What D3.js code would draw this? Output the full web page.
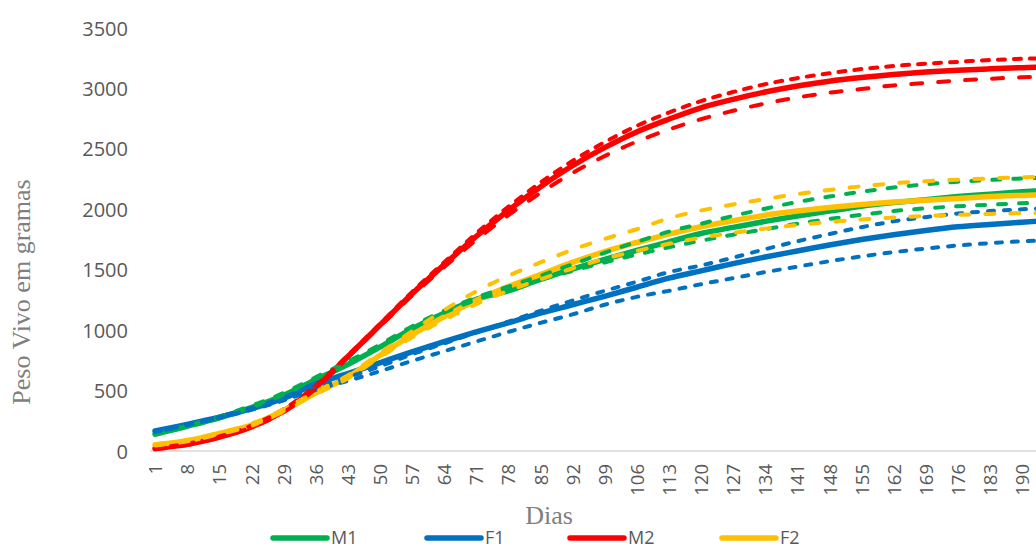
<!DOCTYPE html>
<html>
<head>
<meta charset="utf-8">
<script src="https://cdn.jsdelivr.net/npm/d3@7/dist/d3.min.js"></script>
<style>
  html, body { margin: 0; padding: 0; background: #fff; }
  svg { display: block; }
</style>
</head>
<body>
<svg id="chart" width="1036" height="550"></svg>
<script>
// ---------- DATA ----------
const days = [1, 8, 15, 22, 29, 36, 43, 50, 57, 64, 71, 78, 85, 92, 99, 106, 113, 120, 127, 134, 141, 148, 155, 162, 169, 176, 183, 190, 197];
const tickDays = [1, 8, 15, 22, 29, 36, 43, 50, 57, 64, 71, 78, 85, 92, 99, 106, 113, 120, 127, 134, 141, 148, 155, 162, 169, 176, 183, 190];
const yTicks = [0, 500, 1000, 1500, 2000, 2500, 3000, 3500];

// M1 (green)
const m1      = [140, 205, 275, 360, 460, 590, 715, 860, 1010, 1140, 1255, 1325, 1420, 1505, 1585, 1660, 1730, 1800, 1850, 1900, 1945, 1985, 2025, 2055, 2080, 2105, 2125, 2145, 2160];
const m1Upper = [145, 210, 285, 375, 480, 610, 740, 880, 1030, 1160, 1270, 1360, 1450, 1545, 1640, 1730, 1815, 1880, 1945, 2005, 2060, 2105, 2145, 2180, 2207, 2228, 2243, 2255, 2265];
const m1Lower = [135, 200, 270, 360, 465, 600, 725, 870, 1020, 1145, 1250, 1335, 1415, 1490, 1560, 1625, 1685, 1740, 1790, 1835, 1880, 1920, 1955, 1985, 2008, 2025, 2038, 2050, 2058];
// F1 (blue)
const f1      = [165, 220, 280, 350, 435, 555, 640, 730, 820, 905, 985, 1060, 1140, 1210, 1280, 1355, 1430, 1490, 1550, 1605, 1655, 1705, 1750, 1790, 1825, 1855, 1875, 1893, 1910];
const f1Upper = [160, 215, 275, 340, 420, 520, 610, 700, 800, 890, 980, 1070, 1160, 1245, 1325, 1400, 1480, 1535, 1600, 1670, 1735, 1795, 1852, 1900, 1935, 1965, 1985, 2000, 2012];
const f1Lower = [160, 215, 280, 345, 420, 505, 580, 660, 745, 825, 905, 985, 1060, 1130, 1210, 1275, 1325, 1380, 1430, 1480, 1525, 1570, 1610, 1645, 1675, 1700, 1720, 1735, 1745];
// M2 (red)
const m2      = [20, 55, 115, 200, 330, 525, 780, 1040, 1300, 1540, 1775, 1990, 2185, 2360, 2510, 2640, 2745, 2840, 2910, 2970, 3020, 3060, 3090, 3115, 3135, 3150, 3162, 3172, 3180];
const m2Upper = [25, 60, 120, 210, 345, 540, 790, 1050, 1315, 1560, 1800, 2020, 2220, 2400, 2555, 2690, 2800, 2895, 2970, 3035, 3085, 3125, 3160, 3185, 3205, 3220, 3235, 3245, 3252];
const m2Lower = [15, 50, 110, 195, 320, 515, 775, 1030, 1285, 1520, 1745, 1950, 2135, 2300, 2440, 2560, 2660, 2745, 2815, 2875, 2925, 2965, 2995, 3025, 3045, 3065, 3080, 3092, 3100];
// F2 (yellow)
const f2      = [50, 85, 145, 215, 335, 480, 610, 790, 960, 1110, 1245, 1360, 1460, 1560, 1650, 1725, 1795, 1855, 1905, 1950, 1985, 2015, 2040, 2060, 2075, 2090, 2105, 2115, 2125];
const f2Upper = [55, 90, 150, 225, 345, 490, 625, 810, 990, 1165, 1320, 1450, 1560, 1665, 1755, 1835, 1925, 1990, 2040, 2085, 2125, 2160, 2190, 2215, 2232, 2245, 2255, 2265, 2272];
const f2Lower = [45, 80, 140, 210, 330, 470, 600, 775, 940, 1085, 1215, 1325, 1420, 1510, 1590, 1655, 1715, 1765, 1805, 1840, 1870, 1895, 1915, 1932, 1945, 1955, 1962, 1968, 1972];

const legendNames = ["M1", "F1", "M2", "F2"];
const colors = {M1: "#00B050", F1: "#0070C0", M2: "#FF0000", F2: "#FFC000"};

// ---------- LAYOUT ----------
const svg = d3.select("#chart");
const x = d3.scaleLinear().domain([1, 190]).range([155, 1022]);
const y = d3.scaleLinear().domain([0, 3500]).range([451, 28]);

const tickColor = "#595959";
const titleColor = "#7f7f7f";

// baseline
svg.append("line")
  .attr("x1", 150).attr("x2", 1036)
  .attr("y1", y(0)).attr("y2", y(0))
  .attr("stroke", "#d9d9d9").attr("stroke-width", 1.5);

// Y axis labels
const yAxis = d3.axisLeft(y).tickValues(yTicks).tickSize(0).tickPadding(0).tickFormat(d3.format("d"));
const gy = svg.append("g").attr("transform", "translate(128,0)").call(yAxis);
gy.select(".domain").remove();
gy.selectAll("text")
  .attr("fill", tickColor)
  .style("font-family", "'Open Sans', sans-serif")
  .style("font-size", "20px")
  .attr("dy", "0.35em");

// X axis labels (rotated)
const xAxis = d3.axisBottom(x).tickValues(tickDays).tickSize(0).tickFormat(d3.format("d"));
const gx = svg.append("g").attr("transform", `translate(0,${y(0)})`).call(xAxis);
gx.select(".domain").remove();
gx.selectAll("text")
  .attr("fill", tickColor)
  .style("font-family", "'Open Sans', sans-serif")
  .style("font-size", "18.5px")
  .attr("text-anchor", "end")
  .attr("transform", "rotate(-90)")
  .attr("x", -13)
  .attr("y", 0)
  .attr("dy", "0.36em");

// Axis titles
svg.append("text")
  .attr("transform", "translate(30,292) rotate(-90)")
  .attr("text-anchor", "middle")
  .attr("fill", titleColor)
  .style("font-family", "'Liberation Serif', 'Times New Roman', serif")
  .style("font-size", "26px")
  .text("Peso Vivo em gramas");

svg.append("text")
  .attr("x", 549).attr("y", 524)
  .attr("text-anchor", "middle")
  .attr("fill", titleColor)
  .style("font-family", "'Liberation Serif', 'Times New Roman', serif")
  .style("font-size", "26px")
  .text("Dias");

// ---------- LINES ----------
const line = d3.line()
  .x((d, i) => x(days[i]))
  .y(d => y(d))
  .curve(d3.curveCatmullRom.alpha(0.5));

const plot = svg.append("g");

const solids = [
  {name: "M1", values: m1},
  {name: "F1", values: f1},
  {name: "M2", values: m2},
  {name: "F2", values: f2}
];
const dashed = [
  {name: "M1", values: m1Upper, dash: "8,13"},
  {name: "M1", values: m1Lower, dash: "8,13"},
  {name: "F1", values: f1Upper, dash: "6,10"},
  {name: "F1", values: f1Lower, dash: "6,10"},
  {name: "M2", values: m2Upper, dash: "7,9"},
  {name: "M2", values: m2Lower, dash: "11,16"},
  {name: "F2", values: f2Upper, dash: "9,16"},
  {name: "F2", values: f2Lower, dash: "9,16"}
];

plot.selectAll(".solid")
  .data(solids)
  .join("path")
  .attr("class", "solid")
  .attr("d", d => line(d.values))
  .attr("fill", "none")
  .attr("stroke", d => colors[d.name])
  .attr("stroke-width", 5.5)
  .attr("stroke-linecap", "round")
  .attr("stroke-linejoin", "round");

plot.selectAll(".dashed")
  .data(dashed)
  .join("path")
  .attr("class", "dashed")
  .attr("d", d => line(d.values))
  .attr("fill", "none")
  .attr("stroke", d => colors[d.name])
  .attr("stroke-width", 4)
  .attr("stroke-dasharray", d => d.dash)
  .attr("stroke-linecap", "round")
  .attr("stroke-linejoin", "round");

// ---------- LEGEND ----------
const legendX = [273, 427, 570, 722];
const legend = svg.append("g");
legendNames.forEach((n, i) => {
  legend.append("line")
    .attr("x1", legendX[i]).attr("x2", legendX[i] + 54)
    .attr("y1", 538).attr("y2", 538)
    .attr("stroke", colors[n]).attr("stroke-width", 5.5)
    .attr("stroke-linecap", "round");
  legend.append("text")
    .attr("x", legendX[i] + 58).attr("y", 538)
    .attr("dy", "0.35em")
    .attr("fill", tickColor)
    .style("font-family", "'Open Sans', sans-serif")
    .style("font-size", "18px")
    .text(n);
});
</script>
</body>
</html>
